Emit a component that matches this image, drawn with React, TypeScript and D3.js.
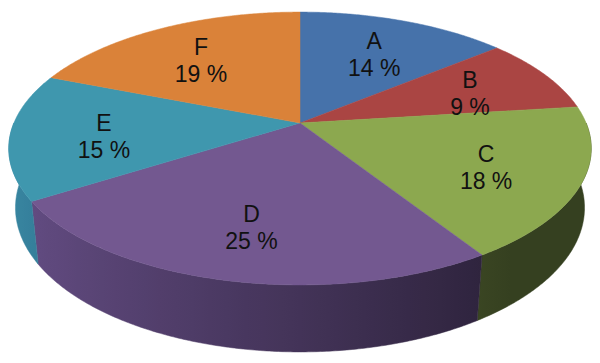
import React, { useEffect, useRef } from 'react';
import * as d3 from 'd3';

// slice data (percent)
const NAMES = ['A', 'B', 'C', 'D', 'E', 'F'];
const VALUES = [14, 9, 18, 25, 15, 19];
const COLORS = ['#4672AA', '#AA4543', '#8CA84F', '#735890', '#3F97AE', '#DA8239'];

const W = 600, H = 363;

// camera used for the 3d look
const cam = { cx: 300, cy: 123, dist: 4.75, focal: 1359, tilt: 27.4 * Math.PI / 180, thick: 0.235 };

const project = (X: number, Y: number, U: number): [number, number] => {
  const sa = Math.sin(cam.tilt), ca = Math.cos(cam.tilt);
  const s = Y * sa - U * ca;
  const depth = cam.dist - Y * ca - U * sa;
  return [cam.cx + cam.focal * X / depth, cam.cy + cam.focal * s / depth];
};

// angle from 12 o'clock, clockwise seen from above
const rim = (a: number, r: number, U: number) => project(r * Math.sin(a), -r * Math.cos(a), U);

// side brightness, light from the left
const shade = (a: number) => Math.max(0.38, Math.min(0.93, 0.58 - 0.32 * Math.sin(a)));

const App = () => {
  const ref = useRef<SVGSVGElement>(null);

  useEffect(() => {
    const svg = d3.select(ref.current);
    svg.selectAll('*').remove();

    const pie = d3.pie<number>().sort(null).value(d => d);
    const arcs = pie(VALUES);
    const step = Math.PI / 360;
    const line = d3.line();
    const defs = svg.append('defs');

    // gradient across x for the visible front wall
    const aLo = Math.PI / 2, aHi = Math.PI * 1.5;
    const samples = d3.range(0, 61).map(k => aLo + (aHi - aLo) * k / 60);
    const xs = samples.map(a => rim(a, 1, 0)[0]);
    const xMin = d3.min(xs) as number, xMax = d3.max(xs) as number;

    arcs.forEach((a, i) => {
      const g = defs.append('linearGradient')
        .attr('id', `side${i}`)
        .attr('gradientUnits', 'userSpaceOnUse')
        .attr('x1', xMin).attr('x2', xMax).attr('y1', 0).attr('y2', 0);
      const c = d3.rgb(COLORS[i]);
      const stops = samples
        .map(t => ({ off: (rim(t, 1, 0)[0] - xMin) / (xMax - xMin), f: shade(t) }))
        .sort((p, q) => p.off - q.off);
      stops.forEach(s => {
        g.append('stop').attr('offset', s.off)
          .attr('stop-color', d3.rgb(c.r * s.f, c.g * s.f, Math.min(255, c.b * s.f * 1.05)).formatHex());
      });
    });

    // outer walls
    arcs.forEach((a, i) => {
      const t0 = Math.max(a.startAngle, aLo), t1 = Math.min(a.endAngle, aHi);
      if (t1 <= t0) return;
      const n = Math.ceil((t1 - t0) / step);
      const top = d3.range(n + 1).map(k => rim(t0 + (t1 - t0) * k / n, 1, 0));
      const bot = d3.range(n + 1).map(k => rim(t0 + (t1 - t0) * k / n, 1, -cam.thick)).reverse();
      svg.append('path')
        .attr('d', line([...top, ...bot]) + 'Z')
        .attr('fill', `url(#side${i})`)
        .attr('stroke', `url(#side${i})`)
        .attr('stroke-width', 0.5);
    });

    // top faces
    svg.append('g').selectAll('path').data(arcs).enter().append('path')
      .attr('d', a => {
        const pts: [number, number][] = [project(0, 0, 0)];
        const n = Math.ceil((a.endAngle - a.startAngle) / step);
        for (let k = 0; k <= n; k++) pts.push(rim(a.startAngle + (a.endAngle - a.startAngle) * k / n, 1, 0));
        return line(pts) + 'Z';
      })
      .attr('fill', (_, i) => COLORS[i])
      .attr('stroke', (_, i) => COLORS[i])
      .attr('stroke-width', 0.5);

    // labels
    const lab = svg.append('g')
      .attr('font-family', 'Arial, "Liberation Sans", sans-serif')
      .attr('font-size', 23)
      .attr('fill', '#111')
      .attr('text-anchor', 'middle');
    arcs.forEach((a, i) => {
      const [x, y] = rim((a.startAngle + a.endAngle) / 2, 0.68, 0);
      const t = lab.append('text');
      t.append('tspan').attr('x', x).attr('y', y - 1).text(NAMES[i]);
      t.append('tspan').attr('x', x).attr('y', y + 26).text(`${VALUES[i]} %`);
    });
  }, []);

  return (
    <svg ref={ref} width={W} height={H} style={{ position: 'absolute', left: 0, top: 0, background: '#fff' }} />
  );
};

export default App;
